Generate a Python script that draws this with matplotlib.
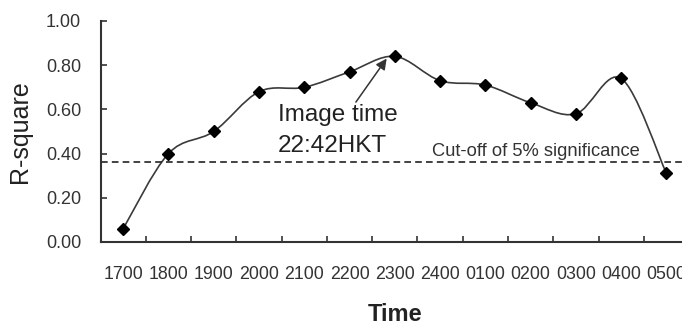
import numpy as np
import matplotlib.pyplot as plt
from matplotlib.path import Path
from matplotlib.patches import PathPatch

plt.rcParams['font.family'] = ['Liberation Sans', 'DejaVu Sans']

# Data
times = ["1700", "1800", "1900", "2000", "2100", "2200", "2300",
         "2400", "0100", "0200", "0300", "0400", "0500"]
r_square = [0.06, 0.40, 0.50, 0.68, 0.70, 0.77, 0.84,
            0.73, 0.71, 0.63, 0.58, 0.74, 0.31]
cutoff = 0.36
y_ticks = [0.0, 0.2, 0.4, 0.6, 0.8, 1.0]

x = np.arange(len(times))
y = np.array(r_square)

fig = plt.figure(figsize=(6.82, 3.27), dpi=100)
ax = fig.add_axes([0.1474, 0.26, 0.863, 0.6758])

# smoothed line (Catmull-Rom as cubic Bezier, like Excel's smoothing)
pts = np.column_stack([x, y])
ext = np.vstack([pts[0], pts, pts[-1]])
verts = [tuple(pts[0])]
codes = [Path.MOVETO]
for i in range(len(pts) - 1):
    p0, p1, p2, p3 = ext[i], ext[i + 1], ext[i + 2], ext[i + 3]
    c1 = p1 + (p2 - p0) / 6
    c2 = p2 - (p3 - p1) / 6
    verts += [tuple(c1), tuple(c2), tuple(p2)]
    codes += [Path.CURVE4] * 3
ax.add_patch(PathPatch(Path(verts, codes), fill=False, edgecolor='#3a3a3a', lw=1.2))
ax.plot(x, y, linestyle='none', marker='D', markersize=6, color='black')

# cut-off line
ax.axhline(cutoff, color='#222222', lw=1.2, linestyle=(0, (4, 2.5)))
ax.text(6.82, 0.41, "Cut-off of 5% significance", fontsize=13.2,
        color='#333333', va='center', ha='left')

# annotation
ax.annotate("", xy=(5.82, 0.83), xytext=(5.14, 0.633),
            arrowprops=dict(arrowstyle='-|>', color='#333333', lw=1.1,
                            mutation_scale=16, shrinkA=0, shrinkB=0))
ax.text(3.42, 0.575, "Image time", fontsize=17.5, color='#222222', va='center', ha='left')
ax.text(3.42, 0.434, "22:42HKT", fontsize=17.5, color='#222222', va='center', ha='left')

ax.set_xlim(-0.5, len(times) - 0.5)
ax.set_ylim(0, 1.0)
ax.set_xticks(x)
ax.set_xticklabels(times)
ax.set_xticks(np.arange(0.5, len(times) - 0.5, 1), minor=True)
ax.set_yticks(y_ticks)
ax.set_yticklabels([f"{v:.2f}" for v in y_ticks])

ax.tick_params(axis='x', which='major', length=0, pad=17, labelsize=12.8, colors='#333333')
ax.tick_params(axis='x', which='minor', direction='in', length=4, width=1.2, color='#333333')
ax.tick_params(axis='y', direction='in', length=4, width=1.2, pad=14, labelsize=13,
               colors='#333333')

for s in ['top', 'right']:
    ax.spines[s].set_visible(False)
for s in ['left', 'bottom']:
    ax.spines[s].set_linewidth(1.5)
    ax.spines[s].set_color('#333333')

ax.set_xlabel("Time", fontsize=17, fontweight='bold', color='#222222')
ax.xaxis.set_label_coords(0.5, -0.275)
ax.set_ylabel("R-square", fontsize=18, color='#222222')
ax.yaxis.set_label_coords(-0.116, 0.5)

fig.savefig("out.png", dpi=100)
